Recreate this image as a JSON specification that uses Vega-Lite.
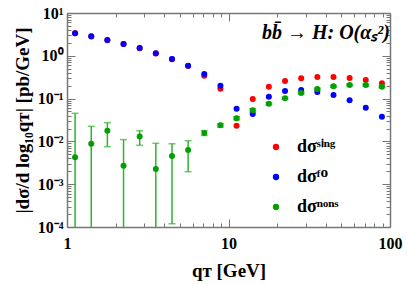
{
  "$schema": "https://vega.github.io/schema/vega-lite/v6.json",
  "width": 323,
  "height": 214,
  "autosize": {"type": "none"},
  "padding": {"left": 67, "top": 13, "right": 17, "bottom": 57},
  "background": "white",
  "config": {
    "view": {"stroke": null},
    "font": "Liberation Serif",
    "axis": {
      "labelFont": "Liberation Serif",
      "labelFontWeight": "bold",
      "labelFontSize": 16,
      "labelColor": "black",
      "titleFont": "Liberation Serif",
      "titleFontWeight": "bold",
      "titleFontSize": 19,
      "titleColor": "black",
      "domainColor": "#777777",
      "domainWidth": 1.5,
      "tickColor": "#777777",
      "tickWidth": 1,
      "gridColor": "#e4e4e4",
      "gridWidth": 1,
      "labelFlush": false,
      "labelOverlap": false
    }
  },
  "title": {
    "text": "bb̄ → H:  O(αₛ²)\u2002\u2009",
    "anchor": "end",
    "frame": "group",
    "offset": -38,
    "font": "Liberation Serif",
    "fontSize": 20,
    "fontStyle": "italic",
    "fontWeight": "bold",
    "color": "black"
  },
  "data": {
    "values": [
      {"q": 1.122, "series": "sing", "value": 3.35},
      {"q": 1.413, "series": "sing", "value": 2.84},
      {"q": 1.778, "series": "sing", "value": 2.32},
      {"q": 2.239, "series": "sing", "value": 1.88},
      {"q": 2.818, "series": "sing", "value": 1.5},
      {"q": 3.548, "series": "sing", "value": 1.13},
      {"q": 4.467, "series": "sing", "value": 0.835},
      {"q": 5.623, "series": "sing", "value": 0.58},
      {"q": 7.079, "series": "sing", "value": 0.343},
      {"q": 8.913, "series": "sing", "value": 0.171},
      {"q": 11.22, "series": "sing", "value": 0.0233},
      {"q": 14.13, "series": "sing", "value": 0.098},
      {"q": 17.78, "series": "sing", "value": 0.19},
      {"q": 22.39, "series": "sing", "value": 0.258},
      {"q": 28.18, "series": "sing", "value": 0.298},
      {"q": 35.48, "series": "sing", "value": 0.32},
      {"q": 44.67, "series": "sing", "value": 0.32},
      {"q": 56.23, "series": "sing", "value": 0.303},
      {"q": 70.79, "series": "sing", "value": 0.272},
      {"q": 89.13, "series": "sing", "value": 0.2275},
      {"q": 1.122, "series": "FO", "value": 3.36},
      {"q": 1.413, "series": "FO", "value": 2.85},
      {"q": 1.778, "series": "FO", "value": 2.34},
      {"q": 2.239, "series": "FO", "value": 1.89},
      {"q": 2.818, "series": "FO", "value": 1.52},
      {"q": 3.548, "series": "FO", "value": 1.14},
      {"q": 4.467, "series": "FO", "value": 0.84},
      {"q": 5.623, "series": "FO", "value": 0.587},
      {"q": 7.079, "series": "FO", "value": 0.376},
      {"q": 8.913, "series": "FO", "value": 0.2},
      {"q": 11.22, "series": "FO", "value": 0.058},
      {"q": 14.13, "series": "FO", "value": 0.0437},
      {"q": 17.78, "series": "FO", "value": 0.111},
      {"q": 22.39, "series": "FO", "value": 0.151},
      {"q": 28.18, "series": "FO", "value": 0.159},
      {"q": 35.48, "series": "FO", "value": 0.1426},
      {"q": 44.67, "series": "FO", "value": 0.121},
      {"q": 56.23, "series": "FO", "value": 0.0912},
      {"q": 70.79, "series": "FO", "value": 0.0612},
      {"q": 89.13, "series": "FO", "value": 0.0378},
      {"q": 1.122, "series": "nons", "value": 0.00425, "lo": 0.000001, "hi": 0.0454},
      {"q": 1.413, "series": "nons", "value": 0.00883, "lo": 0.000001, "hi": 0.0225},
      {"q": 1.778, "series": "nons", "value": 0.0178, "lo": 0.00753, "hi": 0.0274},
      {"q": 2.239, "series": "nons", "value": 0.00271, "lo": 0.000001, "hi": 0.011},
      {"q": 2.818, "series": "nons", "value": 0.0131, "lo": 0.0081, "hi": 0.0178},
      {"q": 3.548, "series": "nons", "value": 0.00226, "lo": 0.000001, "hi": 0.00903},
      {"q": 4.467, "series": "nons", "value": 0.00456, "lo": 0.000119, "hi": 0.0088},
      {"q": 5.623, "series": "nons", "value": 0.0063, "lo": 0.00196, "hi": 0.0104},
      {"q": 7.079, "series": "nons", "value": 0.0157, "lo": 0.0138, "hi": 0.0179},
      {"q": 8.913, "series": "nons", "value": 0.0238, "lo": 0.0216, "hi": 0.026},
      {"q": 11.22, "series": "nons", "value": 0.0347, "lo": 0.032, "hi": 0.0376},
      {"q": 14.13, "series": "nons", "value": 0.0533, "lo": 0.049, "hi": 0.0578},
      {"q": 17.78, "series": "nons", "value": 0.076, "lo": 0.071, "hi": 0.081},
      {"q": 22.39, "series": "nons", "value": 0.1016, "lo": 0.096, "hi": 0.107},
      {"q": 28.18, "series": "nons", "value": 0.135, "lo": 0.128, "hi": 0.142},
      {"q": 35.48, "series": "nons", "value": 0.1675, "lo": 0.159, "hi": 0.176},
      {"q": 44.67, "series": "nons", "value": 0.1936, "lo": 0.184, "hi": 0.203},
      {"q": 56.23, "series": "nons", "value": 0.208, "lo": 0.197, "hi": 0.219},
      {"q": 70.79, "series": "nons", "value": 0.208, "lo": 0.197, "hi": 0.219},
      {"q": 89.13, "series": "nons", "value": 0.19, "lo": 0.18, "hi": 0.2}
    ]
  },
  "layer": [
    {
      "transform": [{"filter": "datum.series == 'nons'"}],
      "mark": {"type": "errorbar", "ticks": {"size": 7, "color": "#2db52d", "strokeWidth": 1.5}, "color": "#2db52d", "thickness": 1.5, "clip": true},
      "encoding": {
        "x": {
          "field": "q", "type": "quantitative",
          "scale": {"type": "log", "domain": [1, 100], "nice": false},
          "axis": {
            "orient": "top", "title": null, "labels": false, "grid": false,
            "values": [1, 2, 3, 4, 5, 6, 7, 8, 9, 10, 20, 30, 40, 50, 60, 70, 80, 90, 100],
            "tickSize": {"condition": {"test": "datum.value == 1 || datum.value == 10 || datum.value == 100", "value": -8}, "value": -4}
          }
        },
        "y": {
          "field": "lo", "type": "quantitative",
          "scale": {"type": "log", "domain": [0.0001, 10], "nice": false},
          "axis": {
            "orient": "right", "title": null, "labels": false, "grid": false,
            "values": [0.0001, 0.0002, 0.0003, 0.0004, 0.0005, 0.0006, 0.0007, 0.0008, 0.0009, 0.001, 0.002, 0.003, 0.004, 0.005, 0.006, 0.007, 0.008, 0.009, 0.01, 0.02, 0.03, 0.04, 0.05, 0.06, 0.07, 0.08, 0.09, 0.1, 0.2, 0.3, 0.4, 0.5, 0.6, 0.7, 0.8, 0.9, 1, 2, 3, 4, 5, 6, 7, 8, 9, 10],
            "tickSize": {"condition": {"test": "datum.value == 0.0001 || datum.value == 0.001 || datum.value == 0.01 || datum.value == 0.1 || datum.value == 1 || datum.value == 10", "value": -8}, "value": -4}
          }
        },
        "y2": {"field": "hi"}
      }
    },
    {
      "mark": {"type": "circle", "size": 36, "opacity": 1, "clip": true},
      "encoding": {
        "x": {
          "field": "q", "type": "quantitative",
          "scale": {"type": "log", "domain": [1, 100], "nice": false},
          "axis": {
            "orient": "bottom",
            "title": "qᴛ [GeV]",
            "titlePadding": 6,
            "values": [1, 2, 3, 4, 5, 6, 7, 8, 9, 10, 20, 30, 40, 50, 60, 70, 80, 90, 100],
            "labelExpr": "datum.value == 1 ? '1' : datum.value == 10 ? '10' : datum.value == 100 ? '100' : ''",
            "labelPadding": 16,
            "tickSize": {"condition": {"test": "datum.value == 1 || datum.value == 10 || datum.value == 100", "value": -8}, "value": -4},
            "gridOpacity": {"condition": {"test": "datum.value == 10", "value": 1}, "value": 0}
          }
        },
        "y": {
          "field": "value", "type": "quantitative",
          "scale": {"type": "log", "domain": [0.0001, 10], "nice": false},
          "axis": {
            "orient": "left",
            "title": "|dσ/d log₁₀qᴛ| [pb/GeV]",
            "titlePadding": 5,
            "values": [0.0001, 0.0002, 0.0003, 0.0004, 0.0005, 0.0006, 0.0007, 0.0008, 0.0009, 0.001, 0.002, 0.003, 0.004, 0.005, 0.006, 0.007, 0.008, 0.009, 0.01, 0.02, 0.03, 0.04, 0.05, 0.06, 0.07, 0.08, 0.09, 0.1, 0.2, 0.3, 0.4, 0.5, 0.6, 0.7, 0.8, 0.9, 1, 2, 3, 4, 5, 6, 7, 8, 9, 10],
            "labelExpr": "datum.value == 10 ? '10¹' : datum.value == 1 ? '10⁰' : datum.value == 0.1 ? '10⁻¹' : datum.value == 0.01 ? '10⁻²' : datum.value == 0.001 ? '10⁻³' : datum.value == 0.0001 ? '10⁻⁴' : ''",
            "labelPadding": 12,
            "tickSize": {"condition": {"test": "datum.value == 0.0001 || datum.value == 0.001 || datum.value == 0.01 || datum.value == 0.1 || datum.value == 1 || datum.value == 10", "value": -8}, "value": -4},
            "gridOpacity": {"condition": {"test": "datum.value == 0.001 || datum.value == 0.01 || datum.value == 0.1 || datum.value == 1", "value": 1}, "value": 0}
          }
        },
        "color": {
          "field": "series", "type": "nominal",
          "scale": {"domain": ["sing", "FO", "nons"], "range": ["#ff0000", "#0000ff", "#00a000"]},
          "legend": {
            "title": null,
            "orient": "none",
            "legendX": 200,
            "legendY": 125,
            "symbolType": "circle",
            "symbolSize": 40,
            "rowPadding": 12,
            "labelFont": "Liberation Serif",
            "labelFontSize": 18,
            "labelFontWeight": "bold",
            "labelColor": "black",
            "labelOffset": 12,
            "labelExpr": "datum.value == 'sing' ? 'dσˢⁱⁿᵍ' : datum.value == 'FO' ? 'dσᶠᴼ' : 'dσⁿᵒⁿˢ'"
          }
        }
      }
    }
  ],
  "resolve": {"axis": {"x": "independent", "y": "independent"}}
}
